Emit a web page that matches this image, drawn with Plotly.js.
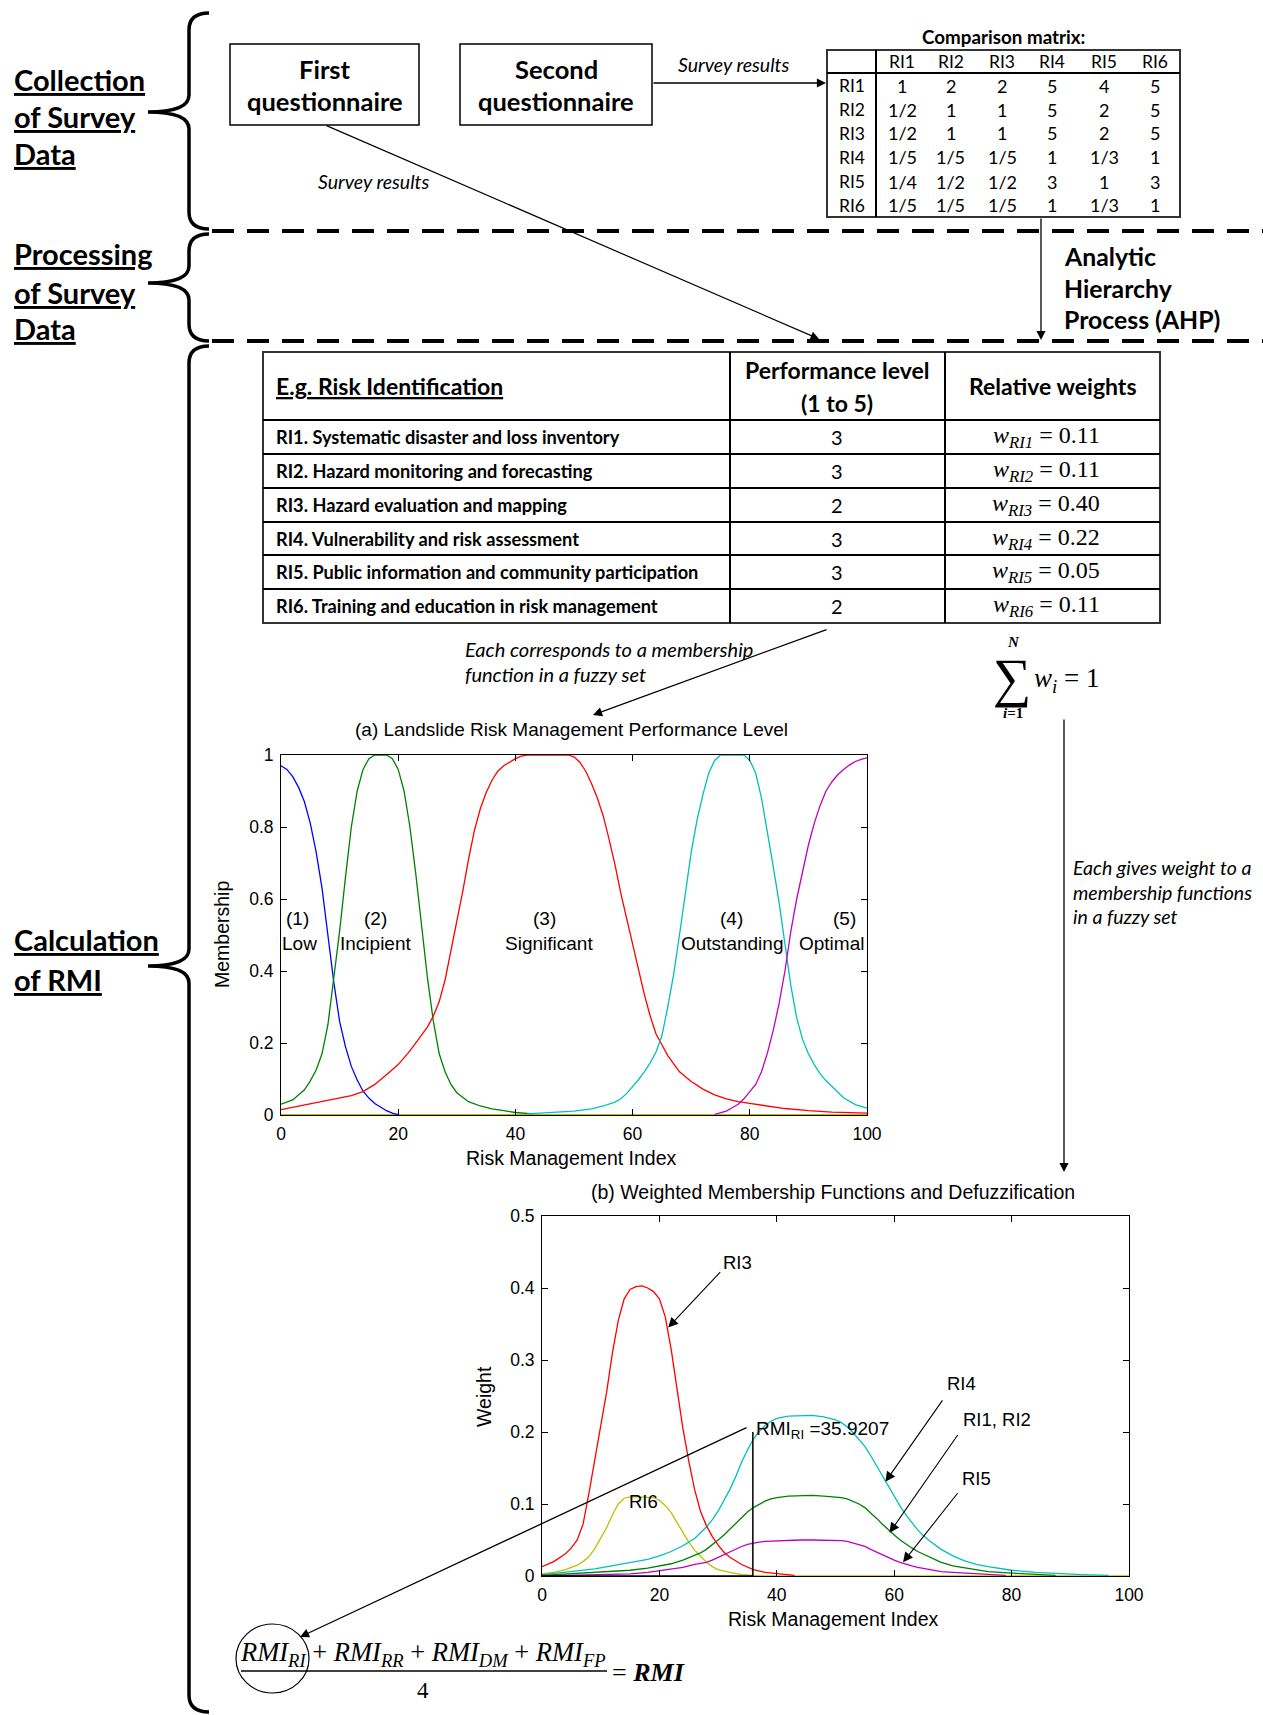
<!DOCTYPE html>
<html><head><meta charset="utf-8">
<script src="https://cdn.plot.ly/plotly-3.0.1.min.js"></script>
<style>html,body{margin:0;padding:0;background:#fff}#fig{width:1263px;height:1715px}</style>
</head><body><div id="fig"></div>
<script>
// ================= DATA =================
const sectionLabels = [['Collection','of Survey','Data'],['Processing','of Survey','Data'],['Calculation','of RMI']];
const questionnaires = [['First','questionnaire'],['Second','questionnaire']];
const surveyLabel = 'Survey results';
const cmTitle = 'Comparison matrix:';
const cmLabels = ['RI1','RI2','RI3','RI4','RI5','RI6'];
const cmRows = [
  ['1','2','2','5','4','5'],
  ['1/2','1','1','5','2','5'],
  ['1/2','1','1','5','2','5'],
  ['1/5','1/5','1/5','1','1/3','1'],
  ['1/4','1/2','1/2','3','1','3'],
  ['1/5','1/5','1/5','1','1/3','1']
];
const ahpLabel = ['Analytic','Hierarchy','Process (AHP)'];
const tableHeaders = ['E.g. Risk Identification',['Performance level','(1 to 5)'],'Relative weights'];
const riNames = [
  'RI1. Systematic disaster and loss inventory',
  'RI2. Hazard monitoring and forecasting',
  'RI3. Hazard evaluation and mapping',
  'RI4. Vulnerability and risk assessment',
  'RI5. Public information and community participation',
  'RI6. Training and education in risk management'
];
const perfLevels = [3,3,2,3,3,2];
const relWeights = [0.11,0.11,0.40,0.22,0.05,0.11];
const noteMembership = ['Each corresponds to a membership','function in a fuzzy set'];
const noteWeight = ['Each gives weight to a','membership functions','in a fuzzy set'];

// Chart (a)
const aTitle = '(a) Landslide Risk Management Performance Level';
const aXTitle = 'Risk Management Index', aYTitle = 'Membership';
const aXTicks = [0,20,40,60,80,100];
const aXTickText = ['0','20','40','60','80','100'];
const aYTicks = [0,0.2,0.4,0.6,0.8,1];
const aYTickText = ['0','0.2','0.4','0.6','0.8','1'];
const levelNums = ['(1)','(2)','(3)','(4)','(5)'];
const levelNames = ['Low','Incipient','Significant','Outstanding','Optimal'];

const aLowX = [0,1,2,3,4,5,6,7,8,9,10,11,12,13,14,15,16,17,18,19,20];
const aLowY = [0.97,0.96,0.94,0.91,0.87,0.81,0.73,0.63,0.5,0.37,0.26,0.19,0.135,0.097,0.066,0.047,0.032,0.021,0.012,0.005,0.001];
const aIncX = [0,2,4,5,6,7,8,9,10,11,12,13,14,15,16,17,18,19,20,21,22,23,24,25,26,27,28,29,30,32,34,36,38,40,43];
const aIncY = [0.03,0.042,0.07,0.095,0.125,0.17,0.25,0.38,0.51,0.66,0.8,0.9,0.96,0.99,1,1,1,0.99,0.96,0.9,0.8,0.67,0.52,0.38,0.26,0.17,0.12,0.085,0.062,0.037,0.025,0.017,0.012,0.007,0.003];
const aSigX = [0,3,6,9,12,14,16,18,20,22,24,25,26,27,28,29,30,31,32,33,34,35,36,37,38,39,40,41,42,44,46,48,49,50,51,52,53,54,55,56,57,58,59,60,61,62,63,64,65,66,68,70,72,74,76,78,80,83,86,90,94,100];
const aSigY = [0.015,0.025,0.036,0.045,0.054,0.065,0.085,0.112,0.14,0.178,0.222,0.245,0.275,0.315,0.375,0.455,0.53,0.62,0.71,0.79,0.85,0.895,0.93,0.955,0.97,0.98,0.99,0.997,1,1,1,1,1,0.995,0.98,0.955,0.92,0.88,0.83,0.765,0.695,0.615,0.545,0.47,0.4,0.335,0.275,0.225,0.195,0.165,0.12,0.093,0.072,0.056,0.045,0.037,0.032,0.025,0.018,0.012,0.008,0.005];
const aOutX = [42,46,50,53,55,57,58,59,60,61,62,63,64,65,66,67,68,69,70,71,72,73,74,75,77,79,80,81,82,83,84,85,86,87,88,89,90,91,92,93,94,96,98,100];
const aOutY = [0.003,0.006,0.011,0.017,0.025,0.036,0.045,0.06,0.078,0.098,0.12,0.145,0.175,0.22,0.3,0.39,0.5,0.62,0.73,0.82,0.89,0.95,0.985,1,1,1,0.985,0.95,0.88,0.79,0.69,0.59,0.48,0.36,0.27,0.21,0.17,0.14,0.115,0.095,0.08,0.048,0.029,0.019];
const aOptX = [74,75,76,77,78,79,80,81,82,83,84,85,86,87,88,89,90,91,92,93,94,95,96,97,98,99,100];
const aOptY = [0.002,0.006,0.011,0.02,0.03,0.045,0.065,0.085,0.12,0.172,0.235,0.31,0.4,0.51,0.6,0.68,0.75,0.81,0.86,0.9,0.925,0.945,0.96,0.972,0.982,0.988,0.992];
const aBaseX = [0,100];
const aBaseY = [0,0];

// Chart (b)
const bTitle = '(b) Weighted Membership Functions and Defuzzification';
const bXTitle = 'Risk Management Index', bYTitle = 'Weight';
const bXTicks = [0,20,40,60,80,100];
const bXTickText = ['0','20','40','60','80','100'];
const bYTicks = [0,0.1,0.2,0.3,0.4,0.5];
const bYTickText = ['0','0.1','0.2','0.3','0.4','0.5'];
const bRI3X = [0,2,4,5,6,7,8,9,10,11,12,13,14,15,16,17,18,19,20,21,22,23,24,25,26,27,28,29,30,31,32,34,36,38,40,43];
const bRI3Y = [0.013,0.02,0.031,0.039,0.05,0.072,0.115,0.16,0.205,0.255,0.31,0.355,0.385,0.398,0.402,0.403,0.4,0.395,0.385,0.36,0.315,0.26,0.205,0.16,0.12,0.09,0.07,0.055,0.043,0.033,0.026,0.016,0.009,0.005,0.003,0.001];
const bRI6X = [0,2,4,6,7,8,9,10,11,12,13,14,15,16,17,18,19,20,21,22,23,24,25,26,27,28,29,30,32,34,36,38,100];
const bRI6Y = [0.003,0.005,0.009,0.015,0.02,0.027,0.038,0.052,0.067,0.085,0.1,0.108,0.11,0.11,0.11,0.11,0.109,0.105,0.098,0.088,0.074,0.06,0.047,0.036,0.027,0.019,0.013,0.009,0.005,0.002,0.001,0,0];
const bRI4X = [0,3,6,9,12,15,18,20,22,24,26,27,28,29,30,31,32,33,34,35,36,37,38,39,40,42,44,46,48,50,51,52,53,54,55,56,57,58,59,60,61,62,63,64,65,66,68,70,72,74,76,78,80,84,88,92,96.5];
const bRI4Y = [0.002,0.004,0.007,0.01,0.014,0.018,0.023,0.028,0.034,0.042,0.052,0.06,0.068,0.078,0.09,0.105,0.12,0.138,0.158,0.175,0.19,0.201,0.209,0.215,0.219,0.222,0.223,0.223,0.221,0.217,0.213,0.207,0.199,0.19,0.18,0.167,0.153,0.138,0.124,0.11,0.097,0.085,0.074,0.064,0.056,0.049,0.037,0.028,0.021,0.016,0.013,0.01,0.008,0.005,0.003,0.002,0.001];
const bRI12X = [0,5,10,15,18,20,22,24,26,27,28,29,30,31,32,33,34,35,36,37,38,39,40,42,44,46,48,50,51,52,53,54,55,56,57,58,59,60,61,62,63,64,65,66,68,70,72,74,76,80,84,87.5];
const bRI12Y = [0.001,0.003,0.005,0.008,0.011,0.014,0.017,0.022,0.028,0.032,0.037,0.043,0.05,0.057,0.065,0.073,0.081,0.089,0.095,0.1,0.104,0.107,0.109,0.111,0.112,0.112,0.111,0.11,0.109,0.107,0.104,0.1,0.095,0.088,0.08,0.072,0.064,0.057,0.05,0.044,0.039,0.034,0.03,0.026,0.019,0.014,0.011,0.008,0.006,0.004,0.002,0.001];
const bRI5X = [0,5,10,15,18,20,22,24,26,28,29,30,31,32,33,34,35,36,37,38,40,42,44,46,48,50,51,52,53,54,55,56,57,58,59,60,61,62,63,64,66,68,70,72,75,79];
const bRI5Y = [0,0.001,0.002,0.003,0.005,0.007,0.009,0.012,0.016,0.019,0.022,0.026,0.03,0.034,0.038,0.041,0.044,0.046,0.047,0.048,0.049,0.05,0.05,0.05,0.05,0.05,0.049,0.048,0.046,0.044,0.041,0.037,0.033,0.029,0.026,0.022,0.019,0.016,0.014,0.012,0.009,0.006,0.005,0.004,0.002,0.001];
const rmiRI = 35.9207;
const rmiTop = 0.2;
const bCurveLabels = ['RI3','RI6','RI4','RI1, RI2','RI5'];
const formulaTerms = ['RI','RR','DM','FP'];
const formulaDen = '4';

// ================= LAYOUT HELPERS =================
const W = 1263, H = 1715;
const X = p => p / W;
const Y = p => 1 - p / H;
const FC = 'Lato, "Open Sans", sans-serif';
const FM = '"Liberation Sans", Arial, sans-serif';
const FS = '"Liberation Serif", "DejaVu Serif", serif';
const shapes = [], ann = [];

function T(text, x, y, size, family, xanchor) {
  ann.push({xref:'paper', yref:'paper', x:X(x), y:Y(y), text:text, showarrow:false,
    xanchor:xanchor || 'center', yanchor:'middle', font:{family:family || FC, size:size, color:'#000'}});
}
function L(x0,y0,x1,y1,w,dash){
  shapes.push({type:'line', xref:'paper', yref:'paper', x0:X(x0), y0:Y(y0), x1:X(x1), y1:Y(y1),
    line:{color:'#000', width:w || 1.3, dash:dash || 'solid'}});
}
function R(x0,y0,x1,y1,w,col){
  shapes.push({type:'rect', xref:'paper', yref:'paper', x0:X(x0), y0:Y(y0), x1:X(x1), y1:Y(y1),
    line:{color:col || '#000', width:w || 1.5}, fillcolor:'rgba(0,0,0,0)'});
}
function A(tx,ty,hx,hy,w){
  ann.push({xref:'paper', yref:'paper', x:X(hx), y:Y(hy), ax:tx-hx, ay:ty-hy, axref:'pixel', ayref:'pixel',
    text:'', showarrow:true, arrowhead:2, arrowsize:1.4, arrowwidth:w || 1.3, arrowcolor:'#000', standoff:0, startstandoff:0});
}
function brace(top, tip, bot){
  const sx = 189, ex = 209, tx = 148, r = 17;
  const p = (x,y) => X(x) + ',' + Y(y);
  const d = 'M' + p(ex,top) + ' Q' + p(sx,top) + ' ' + p(sx,top+r) +
    ' L' + p(sx,tip-r) + ' Q' + p(sx,tip) + ' ' + p(tx,tip) +
    ' M' + p(tx,tip) + ' Q' + p(sx,tip) + ' ' + p(sx,tip+r) +
    ' L' + p(sx,bot-r) + ' Q' + p(sx,bot) + ' ' + p(ex,bot);
  shapes.push({type:'path', xref:'paper', yref:'paper', path:d, line:{color:'#000', width:3.5}});
}

// ================= DIAGRAM =================
const secY = [[79,117,154],[254,292,329],[940,979]];
sectionLabels.forEach((lines,i) => lines.forEach((t,j) => T('<b><u>' + t + '</u></b>', 12, secY[i][j], 29, FC, 'left')));
brace(13, 112, 229);
brace(234, 283, 341);
brace(346, 966, 1712);
L(212, 231, 1263, 231, 4, '22px,13px');
L(212, 341, 1263, 341, 4, '22px,13px');

// questionnaires
const qBox = [[230,44,419,125],[460,44,652,125]];
questionnaires.forEach((q,i) => {
  const b = qBox[i];
  R(b[0],b[1],b[2],b[3],1.5);
  const cx = (b[0]+b[2])/2;
  T('<b>' + q[0] + '</b>', cx, 69, 25.5);
  T('<b>' + q[1] + '</b>', cx, 101, 25.5);
});
A(652, 83, 826, 83);
T('<i>' + surveyLabel + '</i>', 733, 65, 19.5);
A(325, 125, 819, 339, 1.2);
T('<i>' + surveyLabel + '</i>', 373, 182, 19.5);

// comparison matrix
T('<b>' + cmTitle + '</b>', 1004, 36, 18.8);
R(827, 50, 1180, 217, 2, '#333');
L(827, 73, 1180, 73, 2);
L(876, 50, 876, 217, 2);
const cmColX = [902, 951, 1002, 1052, 1104, 1155];
const cmRowY = [86, 110, 133, 157, 182, 205];
cmLabels.forEach((l,i) => { T(l, cmColX[i], 61, 17.5); T(l, 852, cmRowY[i], 17.5); });
cmRows.forEach((row,r) => row.forEach((v,c) => T(v, cmColX[c], cmRowY[r], 18)));
A(1041, 217, 1041, 340);
ahpLabel.forEach((t,i) => T('<b>' + t + '</b>', 1062, [256,288,320][i], 24.8, FC, 'left'));

// main table
R(263, 352, 1160, 623, 2, '#333');
L(730, 352, 730, 623, 2); L(945, 352, 945, 623, 2);
const rowLines = [420, 454, 488, 522, 555, 589];
rowLines.forEach(y => L(263, y, 1160, y, 2));
T('<b><u>' + tableHeaders[0] + '</u></b>', 274, 386, 23, FC, 'left');
T('<b>' + tableHeaders[1][0] + '</b>', 837, 370, 23);
T('<b>' + tableHeaders[1][1] + '</b>', 837, 403, 23);
T('<b>' + tableHeaders[2] + '</b>', 1053, 386, 23);
const rowY = [437, 471, 505, 539, 572, 606];
riNames.forEach((n,i) => {
  T('<b>' + n + '</b>', 274, rowY[i], 18.2, FC, 'left');
  T(String(perfLevels[i]), 837, rowY[i], 20);
  T('<i>w</i><sub><i>RI' + (i+1) + '</i></sub> = ' + relWeights[i].toFixed(2), 1046, rowY[i], 24, FS);
});

// notes + arrows
T('<i>' + noteMembership[0] + '</i>', 463, 649, 20, FC, 'left');
T('<i>' + noteMembership[1] + '</i>', 463, 674, 20, FC, 'left');
A(828, 629, 593, 715, 1.3);
T('\u2211', 1012, 678, 54, FS);
T('<b><i>N</i></b>', 1013, 642, 15, FS);
T('<b><i>i</i>=1</b>', 1013, 713, 15, FS);
T('<i>w</i><sub><i>i</i></sub> = 1', 1032, 680, 27, FS, 'left');
A(1064, 718, 1064, 1172, 1.3);
noteWeight.forEach((t,i) => T('<i>' + t + '</i>', 1071, [868,892,916][i], 19.5, FC, 'left'));

// formula
const num = formulaTerms.map(s => '<i>RMI</i><sub><i>' + s + '</i></sub>').join(' + ');
T(num, 423, 1654, 26.5, FS);
L(241, 1671, 607, 1671, 1.3);
T(formulaDen, 423, 1690, 23, FS);
T('= <b><i>RMI</i></b>', 610, 1672, 26, FS, 'left');
shapes.push({type:'circle', xref:'paper', yref:'paper', x0:X(236), x1:X(309), y0:Y(1693), y1:Y(1624), line:{color:'#000', width:1.2}});
A(748, 1427, 300, 1637, 1.3);

// ================= CHARTS =================
const axBase = {showline:true, linecolor:'#000', linewidth:1, mirror:'allticks', ticks:'inside', ticklen:6,
  tickcolor:'#000', showgrid:false, zeroline:false, fixedrange:true, tickmode:'array',
  tickfont:{family:FM, size:17.5, color:'#000'}, ticklabelstandoff:3};

const C = {blue:'#0000FF', green:'#008000', red:'#FF0000', cyan:'#00BFBF', mag:'#BF00BF', yel:'#BFBF00', blk:'#000'};
function tr(x, y, col, xa, ya, w){
  return {type:'scatter', mode:'lines', x:x, y:y, xaxis:xa, yaxis:ya, line:{color:col, width:w || 1.3},
    hoverinfo:'skip', showlegend:false, cliponaxis:true};
}
const traces = [
  tr(aBaseX, aBaseY, C.yel, 'x', 'y', 2),
  tr(aLowX, aLowY, C.blue, 'x', 'y'),
  tr(aIncX, aIncY, C.green, 'x', 'y'),
  tr(aSigX, aSigY, C.red, 'x', 'y'),
  tr(aOutX, aOutY, C.cyan, 'x', 'y'),
  tr(aOptX, aOptY, C.mag, 'x', 'y'),
  tr(bRI6X, bRI6Y, C.yel, 'x2', 'y2'),
  tr(bRI4X, bRI4Y, C.cyan, 'x2', 'y2'),
  tr(bRI12X, bRI12Y, C.green, 'x2', 'y2'),
  tr(bRI5X, bRI5Y, C.mag, 'x2', 'y2'),
  tr(bRI3X, bRI3Y, C.red, 'x2', 'y2'),
  tr([0, rmiRI, rmiRI], [0, 0, rmiTop], C.blk, 'x2', 'y2', 1.5)
];

// chart (a) text
T(aTitle, 571, 730, 19, FM);
T(aXTitle, 571, 1158, 19.5, FM);
ann.push({xref:'paper', yref:'paper', x:X(222), y:Y(935), text:aYTitle, textangle:-90, showarrow:false,
  xanchor:'center', yanchor:'middle', font:{family:FM, size:19.5, color:'#000'}});
const lvlX = [2.9, 16.2, 45, 76.8, 96.2];
const lvlNameX = [3.1, 16.2, 45.8, 76.9, 94];
levelNums.forEach((t,i) => {
  ann.push({xref:'x', yref:'y', x:lvlX[i], y:0.545, text:t, showarrow:false, font:{family:FM, size:19, color:'#000'}});
  ann.push({xref:'x', yref:'y', x:lvlNameX[i], y:0.476, text:levelNames[i], showarrow:false, font:{family:FM, size:19, color:'#000'}});
});

// chart (b) text
T(bTitle, 833, 1192, 19.5, FM);
T(bXTitle, 833, 1619, 19.5, FM);
ann.push({xref:'paper', yref:'paper', x:X(484), y:Y(1397), text:bYTitle, textangle:-90, showarrow:false,
  xanchor:'center', yanchor:'middle', font:{family:FM, size:19.5, color:'#000'}});
const bLblPos = [[33.3,0.435],[17.3,0.103],[71.4,0.267],[77.5,0.218],[74.1,0.135]];
bCurveLabels.forEach((t,i) => ann.push({xref:'x2', yref:'y2', x:bLblPos[i][0], y:bLblPos[i][1], text:t,
  showarrow:false, font:{family:FM, size:18.5, color:'#000'}}));
const bArrows = [[30.6,0.424,21.5,0.345],[68.4,0.246,58.5,0.131],[71,0.198,59.2,0.06],[71,0.117,61.5,0.019]];
bArrows.forEach(a => ann.push({xref:'x2', yref:'y2', x:a[2], y:a[3], ax:a[0], ay:a[1], axref:'x2', ayref:'y2',
  text:'', showarrow:true, arrowhead:2, arrowsize:1.8, arrowwidth:1.1, arrowcolor:'#000', standoff:0}));
ann.push({xref:'x2', yref:'y2', x:rmiRI + 0.2, y:rmiTop + 0.003, text:'RMI<sub>RI</sub> =' + rmiRI, showarrow:false,
  xanchor:'left', yanchor:'middle', font:{family:FM, size:19, color:'#000'}});

const layout = {
  width:W, height:H, margin:{l:0, r:0, t:0, b:0}, autosize:false,
  paper_bgcolor:'#fff', plot_bgcolor:'rgba(0,0,0,0)', showlegend:false,
  xaxis:Object.assign({}, axBase, {domain:[X(281), X(867)], range:[0,100], tickvals:aXTicks, ticktext:aXTickText, anchor:'y'}),
  yaxis:Object.assign({}, axBase, {domain:[Y(1115), Y(755)], range:[0,1], tickvals:aYTicks, ticktext:aYTickText, anchor:'x'}),
  xaxis2:Object.assign({}, axBase, {domain:[X(542), X(1129)], range:[0,100], tickvals:bXTicks, ticktext:bXTickText, anchor:'y2'}),
  yaxis2:Object.assign({}, axBase, {domain:[Y(1576), Y(1216)], range:[0,0.5], tickvals:bYTicks, ticktext:bYTickText, anchor:'x2'}),
  shapes:shapes, annotations:ann
};
Plotly.newPlot('fig', traces, layout, {staticPlot:true, displayModeBar:false});
</script>
</body></html>
